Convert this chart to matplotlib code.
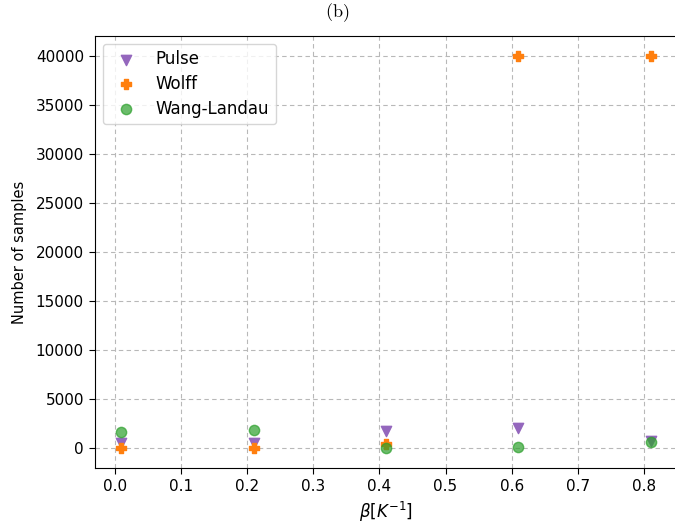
import numpy as np
import matplotlib
matplotlib.use('Agg')
import matplotlib.pyplot as plt

beta = [0.01, 0.21, 0.41, 0.61, 0.81]
pulse = [550, 500, 1750, 2100, 800]
wolff = [0, 0, 400, 40000, 40000]
wang_landau = [1700, 1900, 70, 120, 650]

fig = plt.figure(figsize=(6.75, 5.29), dpi=100)
ax = fig.add_axes([95 / 675, 1 - 468 / 529, (677 - 95) / 675, (468 - 36) / 529])

ax.scatter(beta, pulse, marker='v', color='tab:purple', s=55, label='Pulse', zorder=3)
ax.scatter(beta, wolff, marker='P', color='tab:orange', s=55, label='Wolff', zorder=3)
ax.scatter(beta, wang_landau, marker='o', color='tab:green', alpha=0.7, s=55,
           label='Wang-Landau', zorder=3)

ax.set_xticks(np.arange(0, 0.81, 0.1))
ax.tick_params(labelsize=11, length=4, pad=4)
ax.grid(True, linestyle=(0, (4, 3)), color='#b8b8b8')
ax.set_axisbelow(True)
ax.set_xlabel(r'$\beta[K^{-1}]$', fontsize=12)
ax.set_ylabel('Number of samples', fontsize=10.5, labelpad=6)
fig.text(0.5, 1 - 13 / 529, r'$\mathrm{(b)}$', math_fontfamily='cm',
         fontsize=13, ha='center', va='center')
ax.legend(loc='upper left', fontsize=12, labelspacing=0.4, borderaxespad=0.45)

fig.savefig('out.png', dpi=100)
